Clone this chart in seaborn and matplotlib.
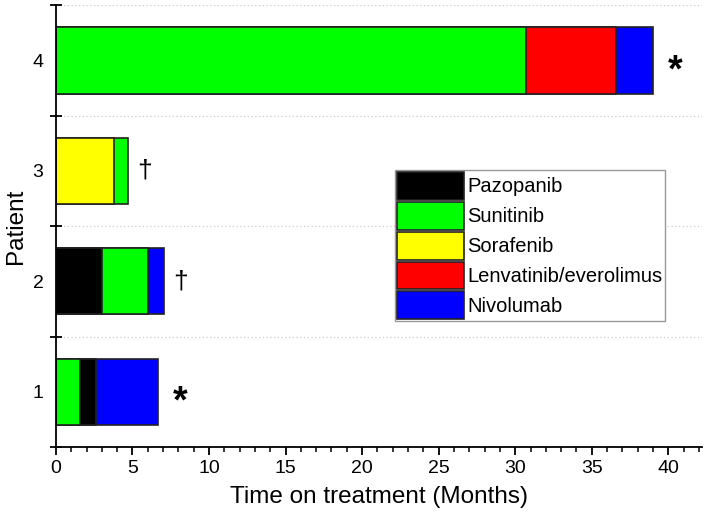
import numpy as np
import pandas as pd
import seaborn as sns
from matplotlib import pyplot as plt
from matplotlib.patches import Patch
from matplotlib.ticker import MultipleLocator

sns.set_theme(style="ticks")
plt.rcParams['font.family'] = ['Liberation Sans', 'DejaVu Sans']
plt.rcParams['text.color'] = 'black'
plt.rcParams['axes.labelcolor'] = 'black'
plt.rcParams['xtick.color'] = 'black'
plt.rcParams['ytick.color'] = 'black'

patients = [1, 2, 3, 4]
# drug of each treatment line, per patient (in order given)
seg_drugs = [
    ["Sunitinib", "Pazopanib", "Nivolumab"],
    ["Pazopanib", "Sunitinib", "Nivolumab"],
    ["Sorafenib", "Sunitinib"],
    ["Sunitinib", "Lenvatinib/everolimus", "Nivolumab"],
]
# cumulative end of each treatment line (months)
seg_ends = [
    [1.57, 2.64, 6.65],
    [3.02, 6.02, 7.04],
    [3.80, 4.72],
    [30.7, 36.6, 39.0],
]
status = ["*", "†", "†", "*"]

drugs = ["Pazopanib", "Sunitinib", "Sorafenib", "Lenvatinib/everolimus", "Nivolumab"]
colors = ["#000000", "#00ff00", "#ffff00", "#ff0000", "#0000ff"]
pal = dict(zip(drugs, colors))

rows = []
for p, dl, el in zip(patients, seg_drugs, seg_ends):
    for k, (d, e) in enumerate(zip(dl, el)):
        rows.append({"patient": p, "line": k, "drug": d, "end": e})
df = pd.DataFrame(rows)

fig = plt.figure(figsize=(7.08, 5.18), dpi=100)
ax = fig.add_axes([0.079, 0.137, 0.9125, 0.853])

# stacked bars: draw last line first so earlier lines sit on top
for k in sorted(df["line"].unique(), reverse=True):
    sub = df[df["line"] == k]
    sns.barplot(data=sub, x="end", y="patient", hue="drug", palette=pal,
                hue_order=drugs, orient="h", native_scale=True, dodge=False,
                width=0.6, edgecolor="#222222", linewidth=1.2, legend=False,
                errorbar=None, saturation=1, ax=ax)

totals = [max(e) for e in seg_ends]
for p, t, s in zip(patients, totals, status):
    if s == "*":
        ax.text(t + 1.45, p - 0.1, s, fontsize=27, fontweight="bold",
                ha="center", va="center")
    else:
        ax.text(t + 1.1, p, s, fontsize=19, ha="center", va="center")

ax.set_xlim(0, 42.2)
ax.set_ylim(0.5, 4.5)
ax.xaxis.set_major_locator(MultipleLocator(5))
ax.xaxis.set_minor_locator(MultipleLocator(1))
ax.set_yticks(patients)
ax.set_yticks(np.arange(0.5, 4.6, 1), minor=True)
ax.tick_params(axis="y", which="major", length=0, labelsize=14, pad=9)
ax.tick_params(axis="y", which="minor", direction="inout", length=9, width=1.3)
ax.tick_params(axis="x", which="major", direction="out", length=6, width=1.3,
               labelsize=14, pad=3)
ax.tick_params(axis="x", which="minor", direction="out", length=3.5, width=1.1)
ax.yaxis.grid(True, which="minor", ls=(0, (1, 2)), color="#cccccc", lw=0.9)
for sp in ["top", "right"]:
    ax.spines[sp].set_visible(False)
for sp in ["left", "bottom"]:
    ax.spines[sp].set_linewidth(1.3)
    ax.spines[sp].set_color("black")

ax.set_xlabel("Time on treatment (Months)", fontsize=17.5, labelpad=7)
ax.set_ylabel("Patient", fontsize=17.5, labelpad=4)

handles = [Patch(facecolor=c, edgecolor="#222222", lw=1.2) for c in colors]
leg = ax.legend(handles, drugs, loc="upper left", bbox_to_anchor=(0.525, 0.627),
                fontsize=14.5, handlelength=3.3, handleheight=1.75, labelspacing=0.1,
                borderpad=0.1, borderaxespad=0, handletextpad=0.2, fancybox=False,
                framealpha=1, edgecolor="#999999")
leg.get_frame().set_linewidth(1)

plt.savefig("out.png", dpi=100)
